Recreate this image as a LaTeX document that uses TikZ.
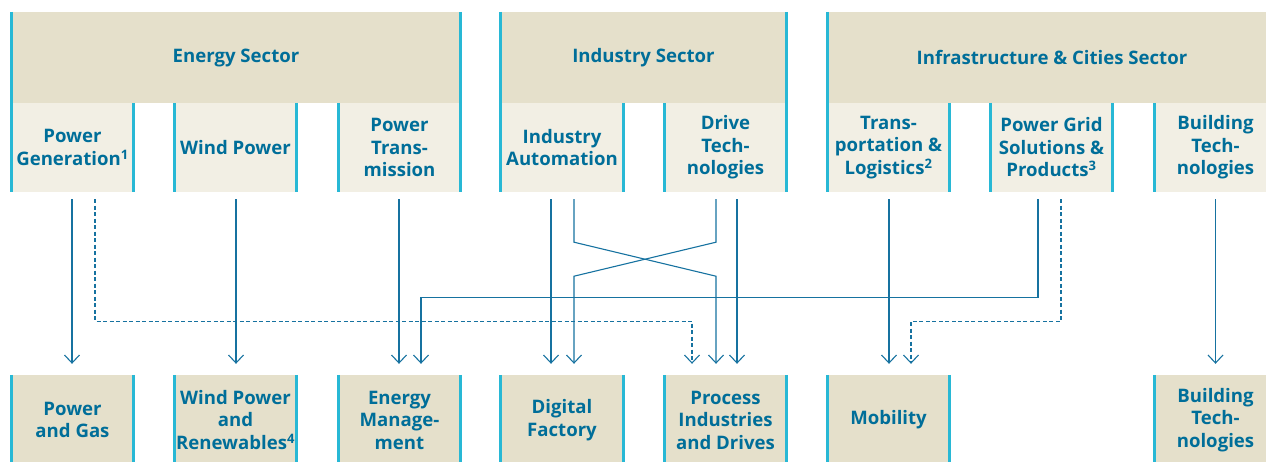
\documentclass[tikz,border=0pt]{standalone}
\usepackage{fontspec}
\setmainfont{Open Sans}
\definecolor{sectorBeige}{RGB}{229,224,203}
\definecolor{unitCream}{RGB}{242,239,228}
\definecolor{barCyan}{RGB}{40,184,213}
\definecolor{petrolText}{RGB}{0,110,153}
\definecolor{linkBlue}{RGB}{22,114,160}
\usepackage{tikz}
\usetikzlibrary{arrows.meta}

\begin{document}
\begin{tikzpicture}[x=1pt,y=-1pt,
    every node/.style={font=\fontsize{18.6}{22.5}\selectfont\bfseries,text=petrolText,
                       align=center,inner sep=0pt},
    sector/.style={fill=sectorBeige,minimum height=91pt},
    unit/.style={fill=unitCream,minimum width=125pt,minimum height=89pt},
    division/.style={fill=sectorBeige,minimum width=125pt,minimum height=90pt},
    bar/.style={draw=barCyan,line width=3pt},
    link/.style={draw=linkBlue,line width=1.1pt,
                 -{Straight Barb[length=8pt,width=15pt,line width=1.1pt]}},
    dashlink/.style={link,dash pattern=on 4pt off 2.5pt}]
    \clip (0,0) rectangle (1266,461);

    \node[sector,minimum width=452pt] (energy) at (236,57.5) {Energy Sector};
    \node[sector,minimum width=289pt] (industry) at (643.5,57.5) {Industry Sector};
    \node[sector,minimum width=452pt] (infra) at (1052,57.5) {Infrastructure \& Cities Sector};

    \node[unit] (pgen) at (72.5,147.5) {Power\\Generation\textsuperscript{1}};
    \node[unit] (wind) at (235.5,147.5) {Wind Power};
    \node[unit] (ptrans) at (399.5,147.5) {Power\\Trans-\\mission};
    \node[unit] (iauto) at (562,147.5) {Industry\\Automation};
    \node[unit] (drive) at (725.5,147.5) {Drive\\Tech-\\nologies};
    \node[unit] (transp) at (888.5,147.5) {Trans-\\portation \&\\Logistics\textsuperscript{2}};
    \node[unit] (pgrid) at (1051.5,147.5) {Power Grid\\Solutions \&\\Products\textsuperscript{3}};
    \node[unit] (btech) at (1215.5,147.5) {Building\\Tech-\\nologies};

    \node[division] (pgas) at (72.5,420) {Power\\and Gas};
    \node[division] (windren) at (235.5,420) {Wind Power\\and\\Renewables\textsuperscript{4}};
    \node[division] (emgmt) at (399.5,420) {Energy\\Manage-\\ment};
    \node[division] (dfact) at (562,420) {Digital\\Factory};
    \node[division] (proc) at (725.5,420) {Process\\Industries\\and Drives};
    \node[division] (mob) at (888.5,420) {Mobility};
    \node[division] (bldg) at (1215.5,420) {Building\\Tech-\\nologies};

    \foreach \n in {energy,industry,infra,pgen,wind,ptrans,iauto,drive,transp,pgrid,btech,
                    pgas,windren,emgmt,dfact,proc,mob,bldg}
        \draw[bar] ([xshift=1.5pt]\n.north west) -- ([xshift=1.5pt]\n.south west)
                   ([xshift=-1.5pt]\n.north east) -- ([xshift=-1.5pt]\n.south east);

    \draw[link] ([xshift=-0.5pt,yshift=-7pt]pgen.south) -- ([xshift=-0.5pt,yshift=11pt]pgas.north);
    \draw[dashlink] ([xshift=22.5pt,yshift=-7pt]pgen.south) -- ++(0,122)
        -| ([xshift=-33.5pt,yshift=11pt]proc.north);
    \draw[link] ([xshift=0.5pt,yshift=-7pt]wind.south) -- ([xshift=0.5pt,yshift=11pt]windren.north);
    \draw[link] ([xshift=-0.5pt,yshift=-7pt]ptrans.south) -- ([xshift=-0.5pt,yshift=11pt]emgmt.north);
    \draw[link] ([xshift=-13.5pt,yshift=-7pt]pgrid.south) -- ++(0,98)
        -| ([xshift=21.5pt,yshift=11pt]emgmt.north);
    \draw[link] ([xshift=-11pt,yshift=-7pt]iauto.south) -- ([xshift=-11pt,yshift=11pt]dfact.north);
    \draw[link] ([xshift=12pt,yshift=-7pt]iauto.south) -- ++(0,43) -- ++(142,34)
        -- ([xshift=-9.5pt,yshift=11pt]proc.north);
    \draw[link] ([xshift=-9.5pt,yshift=-7pt]drive.south) -- ++(0,43) -- ++(-142,34)
        -- ([xshift=12pt,yshift=11pt]dfact.north);
    \draw[link] ([xshift=11.5pt,yshift=-7pt]drive.south) -- ([xshift=11.5pt,yshift=11pt]proc.north);
    \draw[link] ([xshift=0.5pt,yshift=-7pt]transp.south) -- ([xshift=0.5pt,yshift=11pt]mob.north);
    \draw[dashlink] ([xshift=9.5pt,yshift=-7pt]pgrid.south) -- ++(0,122)
        -| ([xshift=22.5pt,yshift=11pt]mob.north);
    \draw[link] ([yshift=-7pt]btech.south) -- ([yshift=11pt]bldg.north);
\end{tikzpicture}
\end{document}
